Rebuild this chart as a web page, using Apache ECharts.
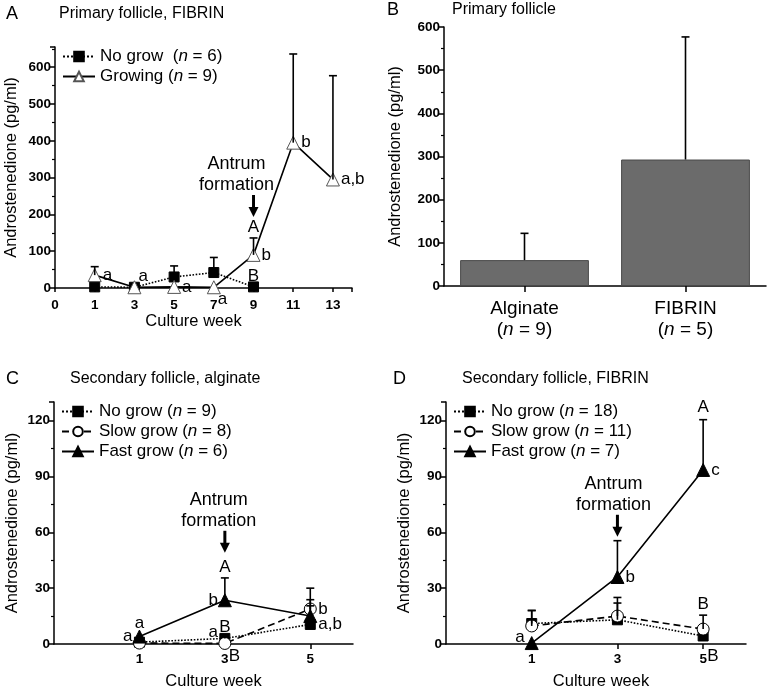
<!DOCTYPE html>
<html>
<head>
<meta charset="utf-8">
<script src="https://cdn.jsdelivr.net/npm/echarts@6/dist/echarts.min.js"></script>
<style>
  html, body { margin: 0; padding: 0; background: #fff; }
  #chart { width: 767px; height: 691px; }
</style>
</head>
<body>
<div id="chart"></div>
<script>
  // ---- panel A: primary follicle, fibrin ----
  const weekTicksA = ['0', '1', '3', '5', '7', '9', '11', '13'];
  const weeksNoGrowA = ['1', '3', '5', '7', '9'];
  const noGrowA = [3, 2, 30, 42, 3];
  const noGrowErrA = [0, 0, 30, 41, 0];
  const weeksGrowingA = ['1', '3', '5', '7', '9', '11', '13'];
  const growingA = [35, 2, 3, 2, 90, 395, 295];
  const growingErrA = [23, 0, 0, 0, 46, 241, 282];
  const notesA = [
    ['1', 35, 'a', 'r'], ['3', 2, 'a', 'ur'], ['5', 3, 'a', 'r'], ['7', 2, 'a', 'dr'],
    ['9', 90, 'b', 'r'], ['9', 136, 'A', 'u'], ['9', 3, 'B', 'u'],
    ['11', 395, 'b', 'r'], ['13', 295, 'a,b', 'r']
  ];
  const antrumA = ['9', 193];

  // ---- panel B: primary follicle ----
  const matrixB = ['Alginate', 'FIBRIN'];
  const nB = [9, 5];
  const meanB = [60, 293];
  const errB = [62, 284];

  // ---- panels C, D: secondary follicle ----
  const weekTicksCD = ['-1', '0', '1', '2', '3', '4', '5', '6'];
  const weeksCD = ['1', '3', '5'];
  const noGrowC = [1, 3, 10.5];
  const noGrowErrC = [0, 1.5, 10];
  const slowC = [0.5, 0.3, 18.8];
  const slowErrC = [0, 0, 5];
  const fastC = [4, 23.5, 15];
  const fastErrC = [0, 12, 15];
  const notesC = [
    ['1', 4, 'a', 'l'], ['1', 5, 'a', 'u'], ['3', 23.5, 'b', 'l'], ['3', 35.5, 'A', 'u'],
    ['3', 3, 'a', 'ul'], ['3', 3, 'B', 'u'], ['3', 0, 'B', 'dr'],
    ['5', 18.8, 'b', 'r'], ['5', 10.5, 'a,b', 'r']
  ];
  const antrumC = ['3', 49];

  const noGrowD = [11, 13, 4.3];
  const noGrowErrD = [7, 9, 0];
  const slowD = [9.7, 15, 8];
  const slowErrD = [8.3, 10, 7.5];
  const fastD = [0.5, 36, 93.5];
  const fastErrD = [0, 19.5, 27];
  const notesD = [
    ['1', 0.5, 'a', 'ul'], ['3', 36, 'b', 'r'], ['5', 93.5, 'c', 'r'],
    ['5', 121, 'A', 'u'], ['5', 15.5, 'B', 'u'], ['5', 0, 'B', 'dr']
  ];
  const antrumD = ['3', 57.6];

  const FONT = '"Liberation Sans", Arial, sans-serif';
  const place = {
    r: [8, 0, 'left'], l: [-7, 0, 'right'], u: [0, -11, 'center'],
    ur: [4, -11, 'left'], dr: [4, 12, 'left'], ul: [-7, -6, 'right']
  };

  let chart = echarts.init(document.getElementById('chart'));

  // x position on panel A axis
  function posA(w) { return weekTicksA.indexOf(w); }

  function errRender(params, api) {
    const x = api.value(0), y = api.value(1), e = api.value(2);
    if (!e) return null;
    const p0 = api.coord([x, y]), p1 = api.coord([x, y + e]);
    const st = {stroke: '#000', lineWidth: 1.6};
    return {
      type: 'group', children: [
        {type: 'line', shape: {x1: p0[0], y1: p0[1], x2: p1[0], y2: p1[1]}, style: st},
        {type: 'line', shape: {x1: p1[0] - 4, y1: p1[1], x2: p1[0] + 4, y2: p1[1]}, style: st}
      ]
    };
  }

  function noteRender(notes) {
    return function (params, api) {
      const n = notes[params.dataIndex];
      const p = api.coord([api.value(0), api.value(1)]);
      const o = place[n[3]];
      return {
        type: 'text', x: p[0] + o[0], y: p[1] + o[1],
        style: {text: n[2], font: '17px ' + FONT, fill: '#000', align: o[2], verticalAlign: 'middle'}
      };
    };
  }

  function antrumRender(dx) {
    return function (params, api) {
      const p = api.coord([api.value(0), api.value(1)]);
      const x = p[0], y = p[1];
      const ts = {font: '18px ' + FONT, fill: '#000', align: 'center', verticalAlign: 'middle'};
      return {
        type: 'group', children: [
          {type: 'rect', shape: {x: x - 1.5, y: y - 22, width: 3, height: 14}, style: {fill: '#000'}},
          {type: 'polygon', shape: {points: [[x - 5, y - 10], [x + 5, y - 10], [x, y]]}, style: {fill: '#000'}},
          {type: 'text', x: x + dx, y: y - 32, style: Object.assign({text: 'formation'}, ts)},
          {type: 'text', x: x + dx, y: y - 53, style: Object.assign({text: 'Antrum'}, ts)}
        ]
      };
    };
  }

  const tickLabel = {fontFamily: FONT, fontWeight: 'bold', fontSize: 13.5, color: '#000'};
  const axisName = {fontFamily: FONT, fontSize: 16.5, color: '#000'};
  const blackLine = {lineStyle: {color: '#000', width: 1.5}};

  function yAxisOf(grid, max, step, gap) {
    return {
      type: 'value', gridIndex: grid, min: 0, max: max, interval: step,
      name: 'Androstenedione (pg/ml)', nameLocation: 'middle', nameGap: gap, nameTextStyle: axisName,
      axisLine: Object.assign({show: true}, blackLine),
      axisTick: {show: true, inside: false, length: 5, lineStyle: {color: '#000', width: 1.5}},
      minorTick: {show: true, splitNumber: 2, length: 3, lineStyle: {color: '#000', width: 1.2}},
      splitLine: {show: false},
      axisLabel: Object.assign({margin: 4, formatter: v => (v % step === 0 ? v : '')}, tickLabel)
    };
  }

  function weekAxisCD(grid, shift) {
    const show = (i, v) => weeksCD.indexOf(v) >= 0;
    return {
      type: 'category', gridIndex: grid, data: weekTicksCD, boundaryGap: false,
      name: 'Culture week', nameLocation: 'middle', nameGap: 29,
      nameTextStyle: Object.assign({padding: [0, 0, 0, shift]}, axisName),
      axisLine: blackLine,
      axisTick: {show: true, interval: show, length: 5, lineStyle: {color: '#000', width: 1.5}},
      axisLabel: Object.assign({interval: show, margin: 8}, tickLabel)
    };
  }

  function lineSeries(name, xi, yi, xs, ys, kind) {
    const styles = {
      noGrow: {symbol: 'rect', size: 10, fill: '#000', line: 'dotted'},
      growing: {symbol: 'triangle', size: 13, fill: '#fff', line: 'solid'},
      slow: {symbol: 'circle', size: 12, fill: '#fff', line: [7, 4]},
      fast: {symbol: 'triangle', size: 13, fill: '#000', line: 'solid'}
    };
    const s = styles[kind];
    return {
      name: name, type: 'line', xAxisIndex: xi, yAxisIndex: yi,
      data: xs.map((x, i) => [x, ys[i]]),
      symbol: s.symbol, symbolSize: s.size,
      itemStyle: {color: s.fill, borderColor: kind === 'growing' ? '#555' : '#000', borderWidth: 1},
      lineStyle: {color: '#000', width: 1.6, type: s.line},
      z: kind === 'fast' || kind === 'growing' ? 4 : 3
    };
  }

  function errSeries(xi, yi, xs, ys, es) {
    return {
      type: 'custom', xAxisIndex: xi, yAxisIndex: yi, silent: true, z: 5,
      data: xs.map((x, i) => [x, ys[i], es[i]]), renderItem: errRender
    };
  }

  function noteSeries(xi, yi, notes, conv) {
    return {
      type: 'custom', xAxisIndex: xi, yAxisIndex: yi, silent: true, z: 6,
      data: notes.map(n => [conv(n[0]), n[1]]), renderItem: noteRender(notes)
    };
  }

  function antrumSeries(xi, yi, a, conv, dx) {
    return {
      type: 'custom', xAxisIndex: xi, yAxisIndex: yi, silent: true, z: 6,
      data: [[conv(a[0]), a[1]]], renderItem: antrumRender(dx)
    };
  }

  const legendText = {
    fontFamily: FONT, fontSize: 17, color: '#000',
    rich: {i: {fontFamily: FONT, fontSize: 17, fontStyle: 'italic', color: '#000'}}
  };
  function legendOf(left, top, names) {
    return {
      orient: 'vertical', left: left, top: top, data: names,
      itemWidth: 32, itemHeight: 12, itemGap: 3, selectedMode: false,
      textStyle: legendText,
      formatter: name => name.replace('(n', '({i|n}')
    };
  }

  const same = v => v;
  const titleStyle = {font: '16px ' + FONT, fill: '#000'};
  const letterStyle = {font: '18px ' + FONT, fill: '#000'};

  const option = {
    animation: false,
    graphic: [
      {type: 'text', left: 6, top: 5, style: Object.assign({text: 'A'}, letterStyle)},
      {type: 'text', left: 59, top: 6, style: Object.assign({text: 'Primary follicle, FIBRIN'}, titleStyle)},
      {type: 'text', left: 387, top: 1, style: Object.assign({text: 'B'}, letterStyle)},
      {type: 'text', left: 452, top: 2, style: Object.assign({text: 'Primary follicle'}, titleStyle)},
      {type: 'text', left: 6, top: 370, style: Object.assign({text: 'C'}, letterStyle)},
      {type: 'text', left: 70, top: 371, style: Object.assign({text: 'Secondary follicle, alginate'}, titleStyle)},
      {type: 'text', left: 393, top: 370, style: Object.assign({text: 'D'}, letterStyle)},
      {type: 'text', left: 462, top: 371, style: Object.assign({text: 'Secondary follicle, FIBRIN'}, titleStyle)}
    ],
    legend: [
      legendOf(57, 43, ['No grow  (n = 6)', 'Growing (n = 9)']),
      legendOf(56, 398, ['No grow (n = 9)', 'Slow grow (n = 8)', 'Fast grow (n = 6)']),
      legendOf(448, 398, ['No grow (n = 18)', 'Slow grow (n = 11)', 'Fast grow (n = 7)'])
    ],
    grid: [
      {left: 55, top: 47, width: 297, height: 241},
      {left: 444, top: 27, width: 322, height: 259},
      {left: 54, top: 402, width: 299, height: 242},
      {left: 446, top: 402, width: 300, height: 242}
    ],
    xAxis: [
      {
        type: 'value', gridIndex: 0, min: 0, max: 7.48, interval: 1,
        name: 'Culture week', nameLocation: 'middle', nameGap: 25,
        nameTextStyle: Object.assign({padding: [0, 20, 0, 0]}, axisName),
        axisLine: blackLine, splitLine: {show: false},
        axisTick: {show: true, length: 4, lineStyle: {color: '#000', width: 1.5}},
        axisLabel: Object.assign({margin: 10, fontSize: 14,
          formatter: v => (Number.isInteger(v) ? weekTicksA[v] : '')}, tickLabel)
      },
      {
        type: 'category', gridIndex: 1, data: matrixB,
        axisLine: blackLine,
        axisTick: {show: true, alignWithLabel: true, length: 6, lineStyle: {color: '#000', width: 1.5}},
        axisLabel: {
          margin: 12, fontFamily: FONT, fontSize: 19, color: '#000', lineHeight: 21,
          formatter: (v, i) => v + '\n({i|n} = ' + nB[i] + ')',
          rich: {i: {fontFamily: FONT, fontSize: 19, fontStyle: 'italic', color: '#000', lineHeight: 21}}
        }
      },
      weekAxisCD(2, 20),
      weekAxisCD(3, 10)
    ],
    yAxis: [
      yAxisOf(0, 655, 100, 35),
      yAxisOf(1, 600, 100, 40),
      yAxisOf(2, 130, 30, 33),
      yAxisOf(3, 130, 30, 33)
    ],
    series: [
      // A
      lineSeries('No grow  (n = 6)', 0, 0, weeksNoGrowA.map(posA), noGrowA, 'noGrow'),
      lineSeries('Growing (n = 9)', 0, 0, weeksGrowingA.map(posA), growingA, 'growing'),
      errSeries(0, 0, weeksNoGrowA.map(posA), noGrowA, noGrowErrA),
      errSeries(0, 0, weeksGrowingA.map(posA), growingA, growingErrA),
      noteSeries(0, 0, notesA, posA),
      antrumSeries(0, 0, antrumA, posA, -17),
      // B
      {
        type: 'bar', xAxisIndex: 1, yAxisIndex: 1, data: meanB, barWidth: '80%',
        itemStyle: {color: '#6b6b6b', borderColor: '#4a4a4a', borderWidth: 1}
      },
      errSeries(1, 1, matrixB, meanB, errB),
      // C
      lineSeries('No grow (n = 9)', 2, 2, weeksCD, noGrowC, 'noGrow'),
      lineSeries('Slow grow (n = 8)', 2, 2, weeksCD, slowC, 'slow'),
      lineSeries('Fast grow (n = 6)', 2, 2, weeksCD, fastC, 'fast'),
      errSeries(2, 2, weeksCD, noGrowC, noGrowErrC),
      errSeries(2, 2, weeksCD, slowC, slowErrC),
      errSeries(2, 2, weeksCD, fastC, fastErrC),
      noteSeries(2, 2, notesC, same),
      antrumSeries(2, 2, antrumC, same, -6),
      // D
      lineSeries('No grow (n = 18)', 3, 3, weeksCD, noGrowD, 'noGrow'),
      lineSeries('Slow grow (n = 11)', 3, 3, weeksCD, slowD, 'slow'),
      lineSeries('Fast grow (n = 7)', 3, 3, weeksCD, fastD, 'fast'),
      errSeries(3, 3, weeksCD, noGrowD, noGrowErrD),
      errSeries(3, 3, weeksCD, slowD, slowErrD),
      errSeries(3, 3, weeksCD, fastD, fastErrD),
      noteSeries(3, 3, notesD, same),
      antrumSeries(3, 3, antrumD, same, -4)
    ]
  };

  chart.setOption(option);
</script>
</body>
</html>
